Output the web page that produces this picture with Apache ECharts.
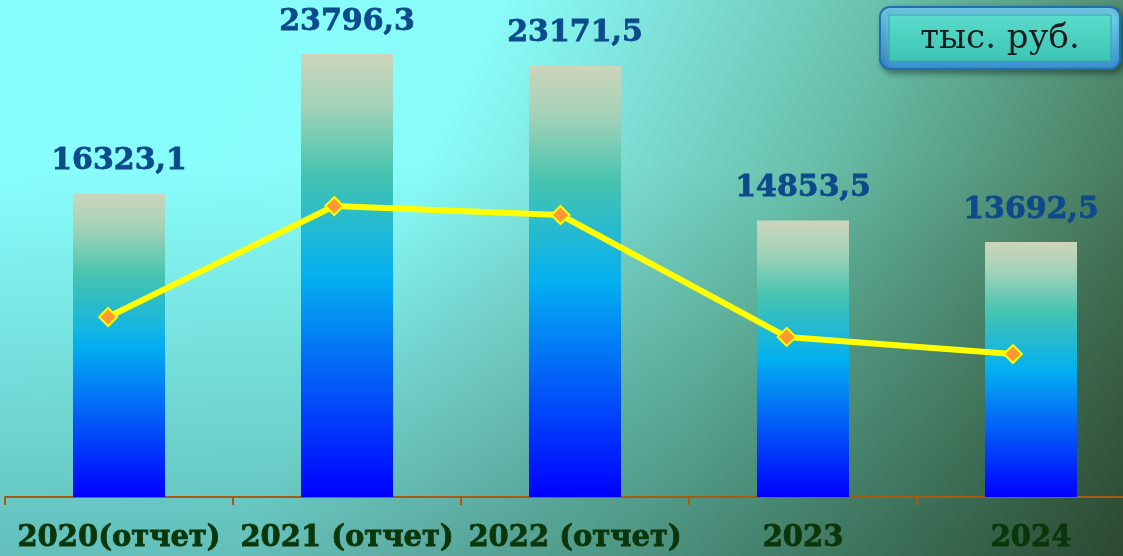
<!DOCTYPE html>
<html>
<head>
<meta charset="utf-8">
<script src="https://cdn.jsdelivr.net/npm/echarts@6/dist/echarts.min.js"></script>
<style>
  html, body { margin: 0; padding: 0; overflow: hidden; }
  /* the plot runs past the right edge of the window, so the chart box is wider and shifted */
  #chart { width: 1152px; height: 556px; margin-left: -5px; }
</style>
</head>
<body>
<div id="chart"></div>
<script>
const categories = ['2020(отчет)', '2021 (отчет)', '2022 (отчет)', '2023', '2024']
const barValues = [16323.1, 23796.3, 23171.5, 14853.5, 13692.5]
const lineValues = [9670, 15630, 15150, 8600, 7680]
const unitLabel = 'тыс. руб.'
const yMax = 26700

const chart = echarts.init(document.getElementById('chart'))

const bg = new echarts.graphic.LinearGradient(0, 0, 1, 1, [
  { offset: 0, color: '#88ffff' },
  { offset: 0.36, color: '#88fcf8' },
  { offset: 0.48, color: '#7ee0d8' },
  { offset: 0.63, color: '#68c0aa' },
  { offset: 0.8, color: '#508c70' },
  { offset: 1, color: '#344a2a' }
])

const barColor = new echarts.graphic.LinearGradient(0, 0, 0, 1, [
  { offset: 0, color: '#cdd5bb' },
  { offset: 0.12, color: '#a0d2b8' },
  { offset: 0.27, color: '#46c4b0' },
  { offset: 0.5, color: '#04b0f0' },
  { offset: 1, color: '#0000ff' }
])

const option = {
  backgroundColor: bg,
  animation: false,
  grid: [
    { left: 10, width: 1140, top: 0, bottom: 59 },
    { left: 0, width: 1131, top: 0, bottom: 59 }
  ],
  xAxis: [
    {
      type: 'category',
      gridIndex: 0,
      data: categories,
      axisLine: { lineStyle: { color: '#a85a10', width: 2 } },
      axisTick: { show: true, length: 8, lineStyle: { color: '#a85a10', width: 2 } },
      axisLabel: {
        interval: 0,
        margin: 27,
        color: '#0a360a',
        fontFamily: 'DejaVu Serif',
        fontWeight: 'bold',
        fontSize: 29,
        textBorderColor: '#0a360a',
        textBorderWidth: 0.8
      }
    },
    { type: 'category', gridIndex: 1, data: categories, show: false }
  ],
  yAxis: [
    { type: 'value', gridIndex: 0, min: 0, max: yMax, show: false },
    { type: 'value', gridIndex: 1, min: 0, max: yMax, show: false }
  ],
  graphic: [
    {
      type: 'rect',
      z: 0,
      silent: true,
      shape: { x: 0, y: 0, width: 1152, height: 556 },
      style: {
        fill: new echarts.graphic.LinearGradient(0, 0, 0, 1, [
          { offset: 0, color: 'rgba(20,60,50,0)' },
          { offset: 0.3, color: 'rgba(20,60,50,0)' },
          { offset: 1, color: 'rgba(20,60,50,0.32)' }
        ])
      }
    },
    {
      type: 'group',
      z: 100,
      children: [
        {
          type: 'rect',
          shape: { x: 885, y: 7, width: 240, height: 62, r: 10 },
          style: {
            fill: new echarts.graphic.LinearGradient(0, 0, 0, 1, [
              { offset: 0, color: '#78d8f4' },
              { offset: 1, color: '#3a8fd0' }
            ]),
            stroke: '#2070b0',
            lineWidth: 2,
            shadowBlur: 6,
            shadowOffsetX: 3,
            shadowOffsetY: 3,
            shadowColor: 'rgba(0,0,0,0.4)'
          }
        },
        {
          type: 'rect',
          shape: { x: 894, y: 15, width: 222, height: 46 },
          style: {
            fill: new echarts.graphic.LinearGradient(0, 0, 0, 1, [
              { offset: 0, color: '#5adccc' },
              { offset: 1, color: '#3cc4b4' }
            ]),
            stroke: '#2ea89c',
            lineWidth: 1
          }
        },
        {
          type: 'text',
          x: 1005,
          y: 39,
          style: {
            text: unitLabel,
            fill: '#1c1c1c',
            font: '34px "DejaVu Serif"',
            align: 'center',
            verticalAlign: 'middle'
          }
        }
      ]
    }
  ],
  series: [
    {
      type: 'bar',
      xAxisIndex: 0,
      yAxisIndex: 0,
      data: barValues,
      barWidth: 92,
      itemStyle: { color: barColor },
      label: {
        show: true,
        position: 'top',
        distance: 17,
        color: '#0d4a8c',
        fontFamily: 'DejaVu Serif',
        fontWeight: 'bold',
        fontSize: 30,
        textBorderColor: '#0d4a8c',
        textBorderWidth: 0.8,
        formatter: p => String(p.value).replace('.', ',')
      }
    },
    {
      type: 'line',
      xAxisIndex: 1,
      yAxisIndex: 1,
      data: lineValues,
      symbol: 'diamond',
      symbolSize: 18,
      lineStyle: { color: '#ffff00', width: 6 },
      itemStyle: { color: '#ff9933', borderColor: '#ffff00', borderWidth: 2 },
      z: 5
    }
  ]
}

chart.setOption(option)
</script>
</body>
</html>
